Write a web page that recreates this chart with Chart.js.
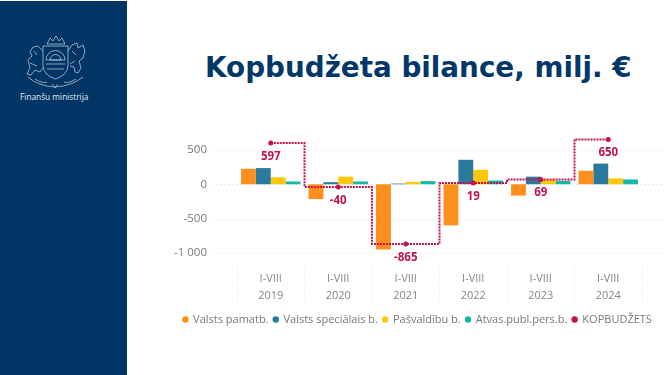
<!DOCTYPE html>
<html>
<head>
<meta charset="utf-8">
<script src="https://cdn.jsdelivr.net/npm/chart.js@4"></script>
<style>
html, body { margin: 0; padding: 0; background: #fff; width: 665px; height: 375px; overflow: hidden; }
#panel { position: absolute; left: 0; top: 1px; width: 127px; height: 374px; background: #013565; }
#panel svg { position: absolute; left: 0; top: 0; }
#org { position: absolute; left: 20px; top: 90px; color: #e4ebf2; font: 8.3px "Open Sans", sans-serif; white-space: nowrap; }
h1 { position: absolute; left: 205px; top: 51px; margin: 0; color: #013868; font: bold 27.8px "DejaVu Sans", sans-serif; white-space: nowrap; }
#wrap { position: absolute; left: 170px; top: 130px; width: 495px; height: 205px; }
</style>
</head>
<body>
<div id="panel">
  <svg width="127" height="110" fill="none" stroke="#c9d6e3" stroke-width="0.7">
    <!-- emblem, just decoration -->
    <path d="M43 45h25v19q0 10-12.500 14q-12.500-4-12.500-14z"/>
    <path d="M46 59a9.500 9.500 0 0 1 19 0zM50 59a5.500 5.500 0 0 1 11 0zM46 63h19M47 68h17"/>
    <path d="M47 43l3-6 3 3 3-5 3 5 3-3 3 6z"/>
    <path d="M43 50l-5-5-5 1-3 5 2 4-4 4 2 8-3 6 4 1 4-5 5 2 3-4M34 50l3 4M30 62l7 3"/>
    <path d="M68 50l4-6 5-2 1 5 5-3 2 6-2 7-4 3 2 7-3 5-3-1-1-5-4-1M72 50l4 4M75 60l-5 3"/>
    <path d="M28 76q10 9 27 10q17-1 28-10M35 78q8 5 12 3M76 78q-8 5-12 3M52 83l3 4 3-4"/>
  </svg>
  <div id="org">Finanšu ministrija</div>
</div>
<h1>Kopbudžeta bilance, milj. €</h1>
<div id="wrap"><canvas id="chart"></canvas></div>
<script>
const years = [['I-VIII', '2019'], ['I-VIII', '2020'], ['I-VIII', '2021'], ['I-VIII', '2022'], ['I-VIII', '2023'], ['I-VIII', '2024']];
const pamatb = [225, -215, -945, -595, -165, 195];
const specialais = [235, 30, 10, 355, 110, 300];
const pasvaldibu = [100, 110, 35, 210, 65, 85];
const atvas = [40, 40, 45, 55, 50, 70];
const kopbudzets = [597, -40, -865, 19, 69, 650];
const yTicks = [-1000, -500, 0, 500];

// values of the line written under the points
const lineLabels = {
    id: 'lineLabels',
    afterDatasetsDraw(chart) {
        const ctx = chart.ctx;
        const meta = chart.getDatasetMeta(0);
        ctx.save();
        ctx.fillStyle = '#c2134f';
        ctx.font = 'bold 11.5px "Open Sans", sans-serif';
        ctx.textAlign = 'center';
        ctx.textBaseline = 'middle';
        meta.data.forEach((pt, i) => {
            ctx.fillText(String(kopbudzets[i]), pt.x, pt.y + 13.5);
        });
        ctx.restore();
    }
};

// the dotted lines run wider than the categories, so the grid is drawn here
const wideGrid = {
    id: 'wideGrid',
    beforeDatasetsDraw(chart) {
        const ctx = chart.ctx;
        ctx.save();
        ctx.strokeStyle = '#dcdcdc';
        ctx.lineWidth = 1;
        ctx.setLineDash([1, 3]);
        yTicks.forEach(v => {
            const y = Math.round(chart.scales.y.getPixelForValue(v)) + 0.5;
            ctx.beginPath();
            ctx.moveTo(42, y);
            ctx.lineTo(494, y);
            ctx.stroke();
        });
        ctx.restore();
    }
};

new Chart(document.querySelector('#chart').getContext('2d'), {
    type: 'bar',
    plugins: [wideGrid, lineLabels],
    data: {
        labels: years,
        datasets: [
            {
                type: 'line', label: 'KOPBUDŽETS', data: kopbudzets, order: 0,
                borderColor: '#c2134f', backgroundColor: '#c2134f', borderWidth: 2, borderDash: [2, 1],
                stepped: 'middle', pointRadius: 2.5, pointBackgroundColor: '#c2134f', pointBorderWidth: 0
            },
            { label: 'Valsts pamatb.', data: pamatb, backgroundColor: '#ff8f1c', order: 1 },
            { label: 'Valsts speciālais b.', data: specialais, backgroundColor: '#2b7a9e', order: 1 },
            { label: 'Pašvaldību b.', data: pasvaldibu, backgroundColor: '#ffc60a', order: 1 },
            { label: 'Atvas.publ.pers.b.', data: atvas, backgroundColor: '#12b8a6', order: 1 }
        ]
    },
    options: {
        responsive: true,
        maintainAspectRatio: false,
        animation: false,
        layout: { padding: { top: 6, right: 0, left: 0, bottom: 0 } },
        datasets: { bar: { categoryPercentage: 0.88, barPercentage: 1 } },
        plugins: {
            tooltip: { enabled: false },
            legend: {
                position: 'bottom',
                labels: {
                    usePointStyle: true, pointStyle: 'circle', boxWidth: 4.5, boxHeight: 4.5,
                    padding: 5, color: '#77787a',
                    font: { family: '"Open Sans", sans-serif', size: 11 },
                    sort: (a, b) => ((a.datasetIndex + 4) % 5) - ((b.datasetIndex + 4) % 5)
                }
            }
        },
        scales: {
            x: {
                grid: { drawOnChartArea: false, tickLength: 36, tickColor: '#e3e3e3', tickBorderDash: [1, 2], offset: true },
                border: { display: false },
                ticks: { color: '#85868a', padding: -32, maxRotation: 0, font: { family: '"Open Sans", sans-serif', size: 11, lineHeight: 1.5 } },
                afterFit(scale) { scale.height = 42; }
            },
            y: {
                min: -1200, max: 700,
                grid: { display: false, drawTicks: false },
                border: { display: false },
                ticks: {
                    color: '#77787a', padding: 30,
                    font: { family: '"Open Sans", sans-serif', size: 11.5 },
                    callback: v => String(v).replace('1000', '1 000')
                },
                afterBuildTicks(scale) { scale.ticks = yTicks.map(v => ({ value: v })); },
                afterFit(scale) {
                    scale.width = 67;
                    // tick padding would otherwise also push the plot down
                    scale.paddingTop = 0;
                    scale.paddingBottom = 0;
                }
            },
            // empty axis, only keeps the right margin without narrowing the legend
            margin: {
                position: 'right',
                grid: { display: false },
                border: { display: false },
                ticks: { display: false },
                afterFit(scale) { scale.width = 23; }
            }
        }
    }
});
</script>
</body>
</html>
